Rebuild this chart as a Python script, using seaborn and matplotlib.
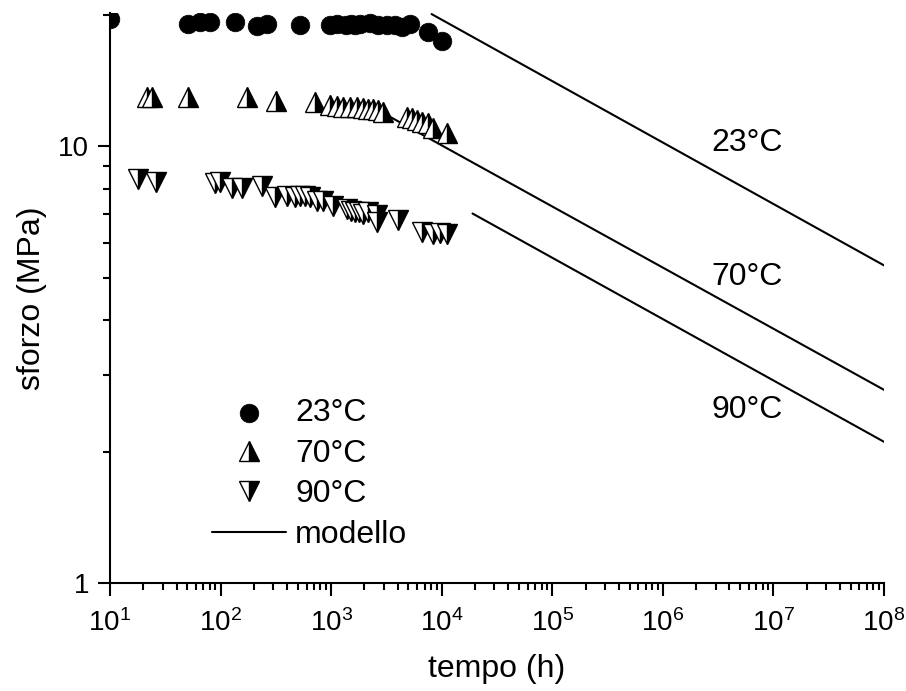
import numpy as np
import pandas as pd
import matplotlib
matplotlib.use("Agg")
import matplotlib.pyplot as plt
import matplotlib.ticker as mticker
import seaborn as sns

# dati: tempo (h) e sforzo (MPa)
t_23 = [10, 51, 65, 80, 135, 212, 261, 522, 975, 1121, 1821, 2244, 2651,
        3176, 3776, 4337, 5155, 7500, 9970, 1350, 1500, 1650]
s_23 = [19.6, 19.1, 19.25, 19.25, 19.25, 18.9, 19.1, 19.0, 19.0, 19.1,
        19.1, 19.15, 19.0, 19.0, 19.0, 18.76, 19.1, 18.26, 17.48, 19.0, 19.05, 19.0]

t_70 = [21.5, 23.8, 51, 172, 317, 714, 975, 1121, 1287, 1479, 1701, 1952,
        2165, 2403, 2668, 2960, 4825, 5350, 5935, 6583, 7555, 8380, 11070]
s_70 = [13.0, 13.0, 13.0, 13.0, 12.69, 12.63, 12.41, 12.35, 12.3, 12.28,
        12.28, 12.25, 12.21, 12.21, 12.1, 12.0, 11.65, 11.59, 11.47, 11.35,
        11.29, 11.05, 10.76]

t_90 = [18.0, 26.1, 89, 98.8, 126, 155, 238, 310, 396, 471, 522, 580, 643,
        739, 849, 1045, 1380, 1510, 1642, 1784, 1940, 2165, 2576, 2576, 4047,
        6583, 8380, 9640, 11070]
s_90 = [8.40, 8.28, 8.25, 8.30, 8.04, 8.04, 8.10, 7.64, 7.68, 7.64, 7.70,
        7.68, 7.64, 7.48, 7.48, 7.30, 7.18, 7.12, 7.06, 7.06, 7.00, 7.06, 6.95,
        6.70, 6.77, 6.37, 6.29, 6.32, 6.29]

# modello: estremi delle rette
modello_t = {"23°C": [8100, 1e8], "70°C": [3190, 1e8], "90°C": [19000, 1e8]}
modello_s = {"23°C": [20.1, 5.34], "70°C": [11.8, 2.77], "90°C": [7.02, 2.106]}
etichette_pos = {"23°C": (5.8e6, 10.2), "70°C": (5.8e6, 5.02), "90°C": (5.8e6, 2.49)}

sns.set_style("ticks")
plt.rcParams["font.family"] = ["Liberation Sans", "DejaVu Sans"]
plt.rcParams["mathtext.fontset"] = "custom"
plt.rcParams["mathtext.rm"] = "Liberation Sans"
plt.rcParams["mathtext.default"] = "regular"
plt.rcParams["axes.linewidth"] = 1.5
for key in ["text.color", "axes.labelcolor", "xtick.color", "ytick.color", "axes.edgecolor"]:
    plt.rcParams[key] = "black"

fig = plt.figure(figsize=(9.06, 6.91), dpi=100)
ax = fig.add_axes([0.1214, 0.1563, 0.8543, 0.8247])
ax.set_xscale("log")
ax.set_yscale("log")

h_mod = None
for k in modello_t:
    df = pd.DataFrame({"t": modello_t[k], "s": modello_s[k]})
    sns.lineplot(data=df, x="t", y="s", color="black", linewidth=1.5, ax=ax,
                 estimator=None, sort=False)
    h_mod = ax.lines[-1]

sns.scatterplot(x=t_23, y=s_23, ax=ax, color="black", s=180, edgecolor="black",
                linewidth=0.5, zorder=3)
h_23 = ax.collections[-1]

h_70, = ax.plot(t_70, s_70, linestyle="none", marker="^", markersize=14,
                fillstyle="right", markerfacecolor="black",
                markerfacecoloralt="white", markeredgecolor="black",
                markeredgewidth=1.0, zorder=3)
h_90, = ax.plot(t_90, s_90, linestyle="none", marker="v", markersize=14,
                fillstyle="right", markerfacecolor="black",
                markerfacecoloralt="white", markeredgecolor="black",
                markeredgewidth=1.0, zorder=3)

for k, (x, y) in etichette_pos.items():
    ax.text(x, y, k, fontsize=23, ha="center", va="center")

ax.set_xlim(10, 1e8)
ax.set_ylim(1, 20.2)
ax.xaxis.set_major_locator(mticker.LogLocator(base=10, numticks=20))
ax.xaxis.set_minor_locator(mticker.LogLocator(base=10, subs=np.arange(2, 10), numticks=100))
ax.xaxis.set_minor_formatter(mticker.NullFormatter())
ax.yaxis.set_major_locator(mticker.FixedLocator([1, 10]))
ax.yaxis.set_major_formatter(mticker.FuncFormatter(lambda v, p: f"{v:g}"))
ax.yaxis.set_minor_locator(mticker.LogLocator(base=10, subs=np.arange(2, 10), numticks=100))
ax.yaxis.set_minor_formatter(mticker.NullFormatter())

ax.tick_params(which="major", direction="out", length=9, width=1.5, labelsize=20)
ax.tick_params(axis="x", which="major", pad=10)
ax.tick_params(axis="y", which="major", pad=6)
ax.tick_params(which="minor", direction="out", length=5, width=1.5)
sns.despine(ax=ax)

ax.set_xlabel("tempo (h)", fontsize=23, labelpad=12)
ax.set_ylabel("sforzo (MPa)", fontsize=23, labelpad=8)

ax.legend([h_23, h_70, h_90, h_mod], ["23°C", "70°C", "90°C", "modello"],
          loc="upper left", bbox_to_anchor=(0.132, 0.324), frameon=False,
          fontsize=23, handlelength=2.3, handletextpad=0.3, labelspacing=0.33,
          borderpad=0, borderaxespad=0)

fig.savefig("out.png", dpi=100)
